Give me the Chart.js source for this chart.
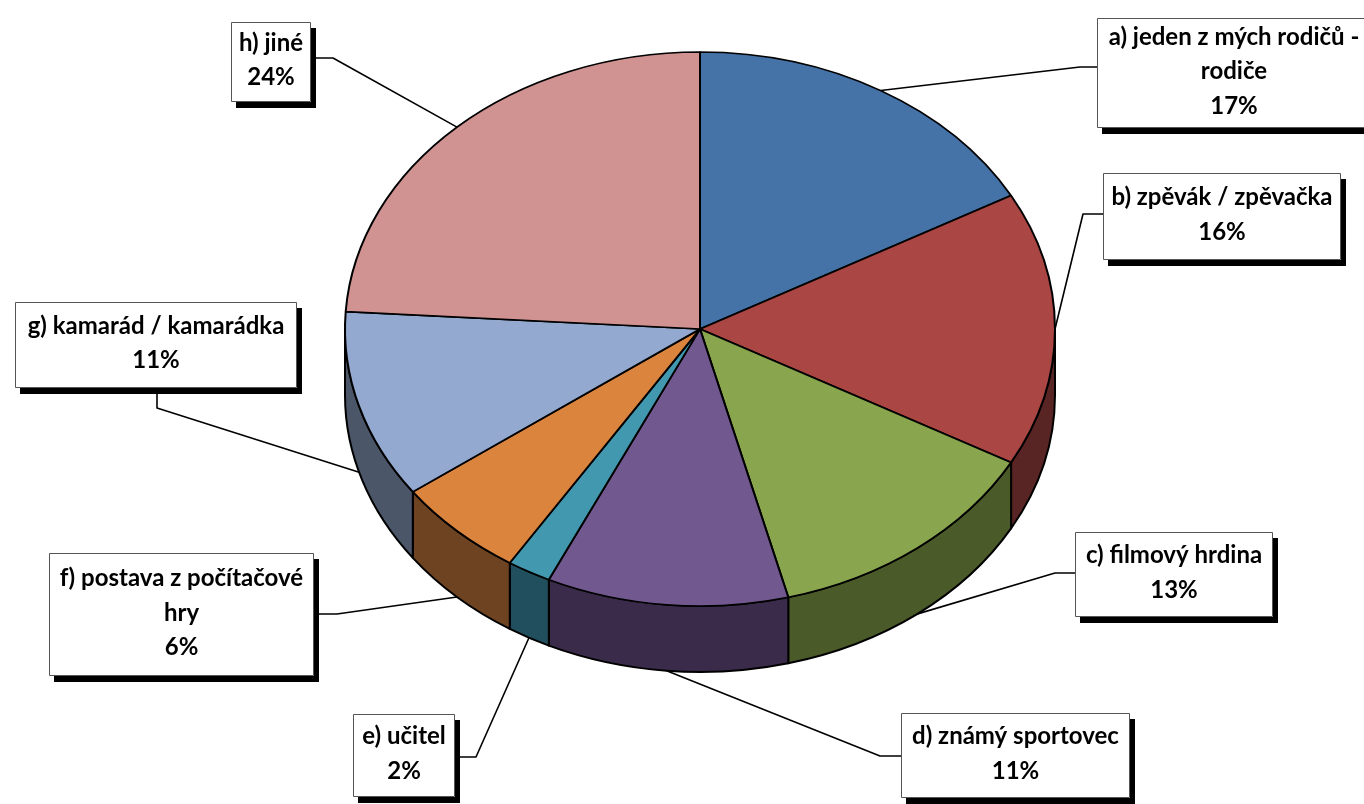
<!DOCTYPE html>
<html>
<head>
<meta charset="utf-8">
<script src="https://cdn.jsdelivr.net/npm/chart.js@4"></script>
<style>
  html, body { margin: 0; padding: 0; background: #fff; }
  #wrap { width: 1364px; height: 804px; }
</style>
</head>
<body>
<div id="wrap"><canvas id="pieChart" width="1364" height="804"></canvas></div>
<script>
// Categories (multi-line labels) and their shares in percent
const categories = [
  ['a) jeden z mých rodičů -', 'rodiče'],
  ['b) zpěvák / zpěvačka'],
  ['c) filmový hrdina'],
  ['d) známý sportovec'],
  ['e) učitel'],
  ['f) postava z počítačové', 'hry'],
  ['g) kamarád / kamarádka'],
  ['h) jiné']
];
const shares = [17, 16, 13, 11, 2, 6, 11, 24];

const topColors = ['#4572A7', '#AA4643', '#89A54E', '#71588F', '#4198AF', '#DB843D', '#93A9CF', '#D19392'];
const sideColors = ['#23395a', '#592524', '#4a5a29', '#3a2b4a', '#224f5d', '#6e4321', '#4b5669', '#6d4c4c'];

// 3D look: where the top face sits, how flat it is, and how thick
const face = { x: 700, y: 329, ry: 277, depth: 66 };

// label boxes: box rect, where the leader leaves the box and where it bends
const boxes = [
  { x: 1097, y: 18,  w: 274, h: 110, from: [1097, 67],  elbow: [1080, 67] },
  { x: 1103, y: 173, w: 238, h: 87,  from: [1103, 214], elbow: [1083, 214] },
  { x: 1075, y: 532, w: 198, h: 85,  from: [1075, 573], elbow: [1055, 573] },
  { x: 901,  y: 713, w: 229, h: 85,  from: [901, 756],  elbow: [880, 756] },
  { x: 353,  y: 714, w: 102, h: 83,  from: [455, 757],  elbow: [476, 757] },
  { x: 49,   y: 553, w: 265, h: 123, from: [314, 614],  elbow: [337, 614] },
  { x: 15,   y: 302, w: 282, h: 86,  from: [157, 388],  elbow: [157, 408] },
  { x: 231,  y: 22,  w: 80,  h: 80,  from: [311, 58],   elbow: [333, 58] }
];

const pie3d = {
  id: 'pie3d',
  beforeDatasetsDraw(chart) {
    const ctx = chart.ctx;
    const arcs = chart.getDatasetMeta(0).data;
    const rx = arcs[0].outerRadius;
    // outer walls, only the front half (canvas angles 0..PI) is visible
    arcs.forEach((arc, i) => {
      const s = Math.max(arc.startAngle, 0);
      const e = Math.min(arc.endAngle, Math.PI);
      if (e <= s) return;
      ctx.beginPath();
      ctx.ellipse(face.x, face.y, rx, face.ry, 0, s, e);
      ctx.ellipse(face.x, face.y + face.depth, rx, face.ry, 0, e, s, true);
      ctx.closePath();
      ctx.fillStyle = sideColors[i];
      ctx.fill();
      ctx.lineWidth = 2;
      ctx.strokeStyle = '#000';
      ctx.lineJoin = 'round';
      ctx.stroke();
    });
    // squash the flat pie into the top ellipse
    ctx.save();
    ctx.translate(face.x, face.y);
    ctx.scale(1, face.ry / rx);
    ctx.translate(-arcs[0].x, -arcs[0].y);
  },
  afterDatasetsDraw(chart) {
    chart.ctx.restore();
  },
  afterDraw(chart) {
    const ctx = chart.ctx;
    const arcs = chart.getDatasetMeta(0).data;
    const rx = arcs[0].outerRadius;
    const total = shares.reduce((a, b) => a + b, 0);

    arcs.forEach((arc, i) => {
      const b = boxes[i];
      const mid = (arc.startAngle + arc.endAngle) / 2;
      const px = face.x + rx * Math.cos(mid);
      let py = face.y + face.ry * Math.sin(mid);
      if (Math.sin(mid) > 0.05) py += face.depth;

      // leader line
      ctx.beginPath();
      ctx.moveTo(b.from[0], b.from[1]);
      ctx.lineTo(b.elbow[0], b.elbow[1]);
      ctx.lineTo(px, py);
      ctx.lineWidth = 1.6;
      ctx.strokeStyle = '#000';
      ctx.stroke();

      // shadow + box
      ctx.fillStyle = '#000';
      ctx.fillRect(b.x + 5, b.y + 6, b.w, b.h);
      ctx.fillStyle = '#fff';
      ctx.fillRect(b.x, b.y, b.w, b.h);
      ctx.lineWidth = 1;
      ctx.strokeStyle = '#555';
      ctx.strokeRect(b.x + 0.5, b.y + 0.5, b.w - 1, b.h - 1);

      // text
      const lines = categories[i].concat([Math.round(shares[i] / total * 100) + '%']);
      ctx.fillStyle = '#000';
      ctx.font = 'bold 24px Lato';
      ctx.textAlign = 'center';
      ctx.textBaseline = 'middle';
      const cxBox = b.x + b.w / 2;
      const cyBox = b.y + b.h / 2 - 1.5;
      const step = 34.5;
      lines.forEach((t, k) => {
        ctx.fillText(t, cxBox, cyBox + (k - (lines.length - 1) / 2) * step);
      });
    });
  }
};

new Chart(document.getElementById('pieChart'), {
  type: 'pie',
  data: {
    labels: categories,
    datasets: [{
      data: shares,
      backgroundColor: topColors,
      borderColor: '#000',
      borderWidth: 2,
      radius: 355,
      clip: false
    }]
  },
  options: {
    responsive: false,
    animation: false,
    events: [],
    layout: { padding: { left: 345, right: 309, top: 47, bottom: 47 } },
    plugins: {
      legend: { display: false },
      tooltip: { enabled: false }
    }
  },
  plugins: [pie3d]
});
</script>
</body>
</html>
